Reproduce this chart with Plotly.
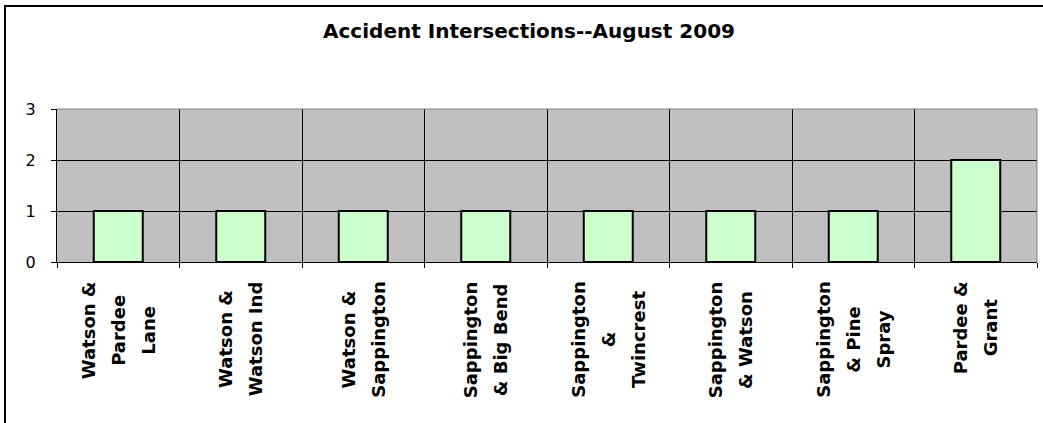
import plotly.graph_objects as go

# ---- data ----
label_lines = [
    ["Watson &", "Pardee", "Lane"],
    ["Watson &", "Watson Ind"],
    ["Watson &", "Sappington"],
    ["Sappington", "& Big Bend"],
    ["Sappington", "&", "Twincrest"],
    ["Sappington", "& Watson"],
    ["Sappington", "& Pine", "Spray"],
    ["Pardee &", "Grant"],
]
categories = [" ".join(l) for l in label_lines]
accidents = [1, 1, 1, 1, 1, 1, 1, 2]
y_ticks = [0, 1, 2, 3]
title_text = "Accident Intersections--August 2009"

W, H = 1043, 423
L, R, T, B = 57, 6, 109, 161
plot_w = W - L - R
plot_h = H - T - B

fig = go.Figure()
fig.add_trace(go.Bar(
    x=categories, y=accidents,
    marker=dict(color="#CCFFCC", line=dict(color="black", width=2)),
    hoverinfo="x+y",
))

label_font = "DejaVu Sans, Liberation Sans, Arial, sans-serif"
annotations = []
for cat, lines in zip(categories, label_lines):
    text = "<br>".join('<span style="font-size:18px">%s</span>' % ln for ln in lines)
    annotations.append(dict(
        x=cat, xref="x", y=-18 / plot_h, yref="paper",
        text="<b>" + text + "</b>", textangle=-90, showarrow=False,
        xanchor="center", yanchor="top", align="center",
        font=dict(family=label_font, size=23, color="black"),
        borderpad=0,
    ))

def px_x(x):  # canvas pixel -> paper x
    return (x - L) / plot_w

def px_y(y):  # canvas pixel -> paper y
    return (T + plot_h - y) / plot_h

shapes = [
    # outer chart border (right/bottom edges fall outside the canvas)
    dict(type="rect", xref="paper", yref="paper",
         x0=px_x(5), x1=px_x(W + 10), y0=px_y(H + 10), y1=px_y(6),
         line=dict(color="black", width=2), fillcolor="rgba(0,0,0,0)", layer="above"),
    # plot-area top and right edges in grey
    dict(type="line", xref="paper", yref="paper", x0=0, x1=1, y0=1, y1=1,
         line=dict(color="#808080", width=1), layer="above"),
    dict(type="line", xref="paper", yref="paper", x0=1, x1=1, y0=0, y1=1,
         line=dict(color="#808080", width=1), layer="above"),
]

fig.update_layout(
    width=W, height=H,
    margin=dict(l=L, r=R, t=T, b=B, pad=0),
    paper_bgcolor="white", plot_bgcolor="#C0C0C0",
    bargap=0.6, showlegend=False,
    title=dict(text="<b>" + title_text + "</b>", x=529 / W, xanchor="center",
               y=1 - 31 / H, yanchor="middle", xref="container", yref="container",
               font=dict(family=label_font, size=20, color="black")),
    font=dict(family=label_font, color="black"),
    annotations=annotations, shapes=shapes,
)
fig.update_xaxes(
    type="category", tickson="boundaries", ticks="outside", ticklen=5,
    tickcolor="black", showticklabels=False, showgrid=True, gridcolor="black",
    gridwidth=1, showline=True, linecolor="black", linewidth=1,
)
fig.update_yaxes(
    range=[0, 3], tickvals=y_ticks, ticks="outside", ticklen=5, tickcolor="black",
    ticklabelstandoff=12, tickfont=dict(size=16, family=label_font, color="black"),
    showgrid=True, gridcolor="black", gridwidth=1, zeroline=False,
    showline=True, linecolor="black", linewidth=1,
)

# place the figure at the window's top-left corner (no default body margin)
fig.write_html("out.html", config={"displayModeBar": False},
               post_script="document.body.style.margin='0px';document.body.style.overflow='hidden';")
